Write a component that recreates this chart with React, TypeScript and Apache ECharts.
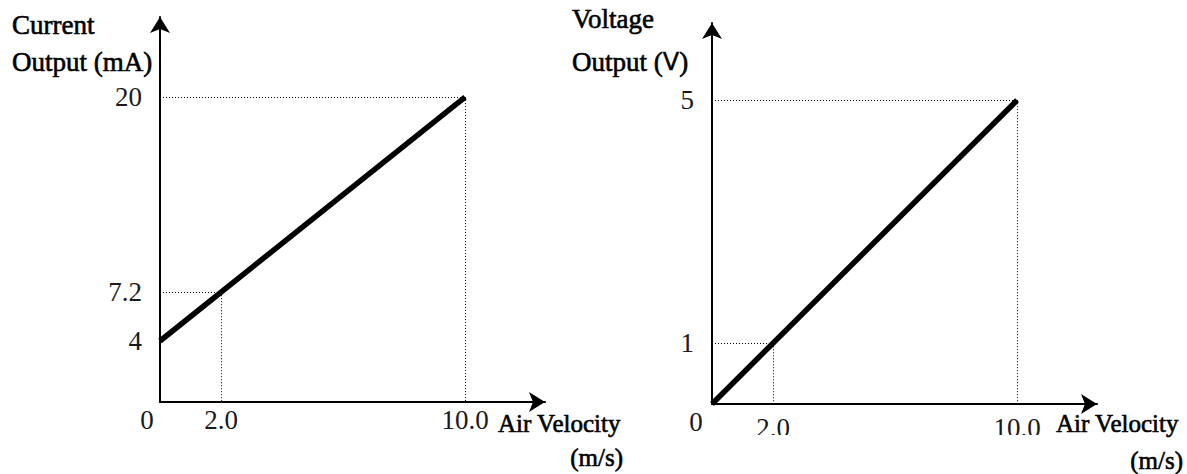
import React, { useEffect, useRef } from "react";
import * as echarts from "echarts";

// ---- data ----
const airVelocity = [0, 10];
const currentOutput = [4, 20];
const voltageOutput = [0, 5];
const refVelocity = 2.0;
const refCurrent = 7.2;
const refVoltage = 1;
const velocityTicks = [0, 2, 10];
const currentTicks = [4, 7.2, 20];
const voltageTicks = [1, 5];

const FONT = "'Liberation Serif', 'Times New Roman', serif";
const TICK_COLOR = "#1a1a1a";

function dropLines(x: number, y: number) {
  return [
    [{ coord: [0, y] }, { coord: [x, y] }],
    [{ coord: [x, y] }, { coord: [x, 0] }],
  ];
}

export default function App() {
  const ref = useRef<HTMLDivElement>(null);
  useEffect(() => {
    if (!ref.current) return;
    const chart = echarts.init(ref.current, null, { renderer: "svg" });
    const axisLine = {
      show: true,
      onZero: false,
      symbol: ["none", "arrow"],
      symbolSize: [15, 16],
      lineStyle: { color: "#000", width: 2 },
    };
    const tickFont = { fontFamily: FONT, fontSize: 27, color: TICK_COLOR };
    const xAxisBase = (max: number, zeroShift: number, margin: number, dropTop: number) => ({
      type: "value",
      min: 0,
      max,
      axisLine,
      axisTick: { show: false },
      splitLine: { show: false },
      axisLabel: {
        customValues: velocityTicks,
        formatter: (v: number) => (v === 0 ? "{z|0}" : `{d|${v.toFixed(1)}}`),
        rich: {
          z: { ...tickFont, padding: [0, zeroShift, 0, 0] },
          d: { ...tickFont, padding: [dropTop, 0, 0, 0] },
        },
        ...tickFont,
        margin,
      },
    });
    const yAxisBase = (max: number, ticks: number[]) => ({
      type: "value",
      min: 0,
      max,
      axisLine,
      axisTick: { show: false },
      splitLine: { show: false },
      axisLabel: {
        customValues: ticks,
        formatter: (v: number) => String(v),
        ...tickFont,
        margin: 18,
      },
    });
    const lineSeries = (idx: number, ys: number[], drops: any[]) => ({
      type: "line",
      xAxisIndex: idx,
      yAxisIndex: idx,
      data: airVelocity.map((x, i) => [x, ys[i]]),
      symbol: "none",
      z: 3,
      lineStyle: { color: "#000", width: 5.5, cap: "butt" },
      markLine: {
        silent: true,
        symbol: ["none", "none"],
        label: { show: false },
        lineStyle: { color: "#000", width: 1, type: [1, 2] },
        data: drops,
      },
    });
    const titleText = (x: number, y: number, text: string, size: number, align = "left", rich?: any) => ({
      type: "text",
      x,
      y,
      z: 50,
      style: {
        text,
        font: `${size}px ${FONT}`,
        fill: "#000",
        stroke: "#000",
        lineWidth: 0.6,
        align,
        verticalAlign: "middle",
        ...(rich ? { rich } : {}),
      },
    });
    const cover = (x: number, y: number, w: number, h: number) => ({
      type: "rect",
      z: 100,
      shape: { x, y, width: w, height: h },
      style: { fill: "#fff" },
    });
    chart.setOption({
      animation: false,
      backgroundColor: "#fff",
      grid: [
        { left: 160, top: 17, width: 385, height: 385 },
        { left: 712, top: 23, width: 385, height: 381 },
      ],
      xAxis: [
        { ...xAxisBase(12.62, 26, 4, 0), gridIndex: 0 },
        { ...xAxisBase(12.62, 32, 4, 6), gridIndex: 1 },
      ],
      yAxis: [
        { ...yAxisBase(25.25, currentTicks), gridIndex: 0 },
        { ...yAxisBase(6.27, voltageTicks), gridIndex: 1 },
      ],
      series: [
        lineSeries(0, currentOutput, [
          ...dropLines(airVelocity[1], currentOutput[1]),
          ...dropLines(refVelocity, refCurrent),
        ]),
        lineSeries(1, voltageOutput, [
          ...dropLines(airVelocity[1], voltageOutput[1]),
          ...dropLines(refVelocity, refVoltage),
        ]),
      ],
      graphic: [
        titleText(12, 25, "Current", 27),
        titleText(12, 62, "Output (mA)", 27),
        titleText(498, 423, "Air Velocity", 25),
        titleText(623, 457, "(m/s)", 25, "right"),
        titleText(572, 19, "Voltage", 27),
        titleText(572, 62, "Output ({v|V})", 27, "left", {
          v: { fontFamily: "'DejaVu Sans', sans-serif", fontSize: 24, fill: "#000", stroke: "#000", lineWidth: 0.4 },
        }),
        titleText(1056, 423, "Air Velocity", 25),
        titleText(1183, 460, "(m/s)", 25, "right"),
        cover(745, 435, 60, 13),
        cover(985, 435, 64, 13),
      ],
    });
    return () => chart.dispose();
  }, []);
  return (
    <div
      ref={ref}
      style={{ position: "fixed", left: 0, top: 0, width: 1187, height: 474, background: "#fff" }}
    />
  );
}
